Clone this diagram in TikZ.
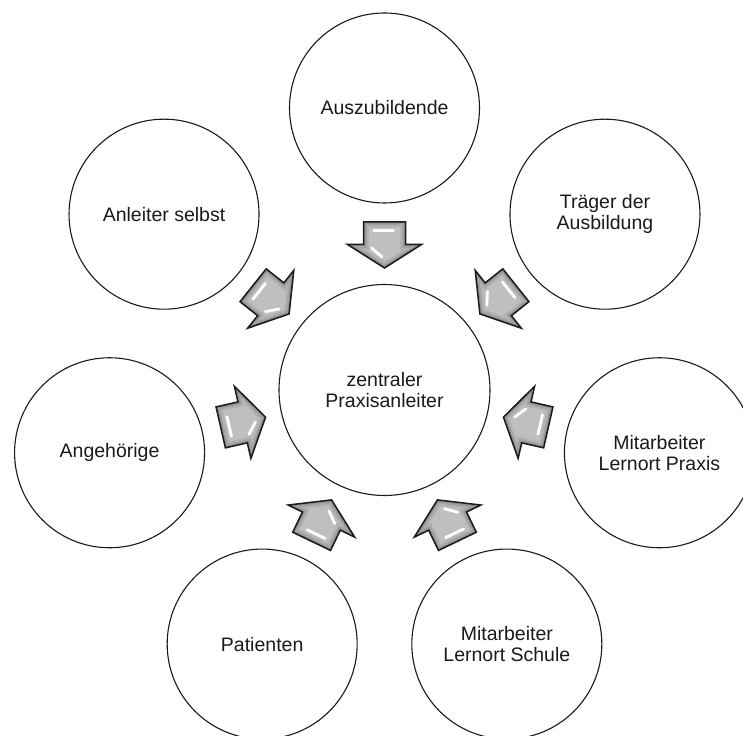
\documentclass[tikz,border=0pt]{standalone}
\usepackage{fontspec}
\setmainfont{Liberation Sans}
\usetikzlibrary{calc}
\definecolor{ink}{HTML}{1A1A1A}
\definecolor{arrowfill}{HTML}{BFBFBF}
\definecolor{arrowrimA}{HTML}{B3B3B3}
\definecolor{arrowrimB}{HTML}{A3A3A3}
\definecolor{arrowrimC}{HTML}{8E8E8E}
\tikzset{
  bubble/.style={circle, draw=ink, line width=1.1pt, minimum size=190pt, inner sep=0pt,
    align=center, text=ink, font=\fontsize{19.5}{21}\selectfont},
  hub/.style={bubble, minimum size=211pt},
  arrowshape/.style={insert path={(0,0) -- (-23.5,37) -- (-23.5,21) -- (-46,21) -- (-46,-21) -- (-23.5,-21) -- (-23.5,-37) -- cycle}},
  gleam/.style={white, line width=2.8pt, line cap=round},
  pics/inarrow/.style={code={
    \fill[arrowfill, arrowshape];
    \begin{scope}
      \clip[arrowshape];
      \draw[arrowrimA, line width=11pt, line join=miter, arrowshape];
      \draw[arrowrimB, line width=7pt, line join=miter, arrowshape];
      \draw[arrowrimC, line width=3.5pt, line join=miter, arrowshape];
    \end{scope}
    \draw[gleam] (-37.5,-11) -- (-37.5,9);
    \draw[gleam] (-20,-13) -- (-11,-2.5);
    \draw[ink, line width=1.5pt, line join=miter, arrowshape];
  }}
}
\begin{document}
\begin{tikzpicture}[x=1pt, y=1pt]
  \useasboundingbox (0,0) rectangle (743,735);
  \clip (0,0) rectangle (743,735);
  \fill[white] (0,0) rectangle (743,735);

  \node[hub] (hub) at (384.5,345) {zentraler\\Praxisanleiter};

  \node[bubble] (azubi)    at ($(hub)+(90:282)$)      {Auszubildende};
  \node[bubble] (anleiter) at ($(hub)+(141.43:282)$)  {Anleiter selbst};
  \node[bubble] (angeh)    at ($(hub)+(192.86:282)$)  {Angehörige};
  \node[bubble] (patient)  at ($(hub)+(244.29:282)$)  {Patienten};
  \node[bubble] (schule)   at ($(hub)+(295.71:282)$)  {Mitarbeiter\\Lernort Schule};
  \node[bubble] (praxis)   at ($(hub)+(347.14:282)$)  {Mitarbeiter\\Lernort Praxis};
  \node[bubble] (traeger)  at ($(hub)+(38.57:282)$)   {Träger der\\Ausbildung};

  \foreach \a in {90,141.43,192.86,244.29,295.71,347.14,38.57}{
    \pic[rotate=\a+180] at ($(hub)+(\a:122)$) {inarrow};
  }
\end{tikzpicture}
\end{document}
